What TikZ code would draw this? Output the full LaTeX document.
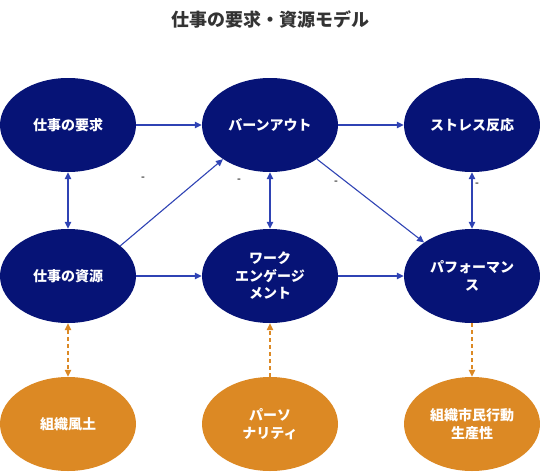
\documentclass[tikz,border=0pt]{standalone}
\usepackage{fontspec}
\setmainfont{Noto Sans CJK JP}
\usetikzlibrary{shapes.geometric,arrows.meta}
\definecolor{navy}{RGB}{6,19,118}
\definecolor{arrowblue}{RGB}{47,67,180}
\definecolor{orng}{RGB}{220,137,36}
\definecolor{ttl}{RGB}{51,51,51}
\definecolor{hyph}{RGB}{80,80,80}
\tikzset{
  otip/.tip={Triangle[length=7pt,width=6.5pt]},
  bnode/.style={ellipse, fill=navy, text=white, minimum width=136pt, minimum height=94pt, inner sep=0pt, align=center, font=\fontsize{14}{17.5}\selectfont\bfseries},
  onode/.style={bnode, fill=orng},
  barrow/.style={draw=arrowblue, line width=1.1pt, -{otip}},
  bdarrow/.style={draw=arrowblue, line width=1.1pt, {otip}-{otip}},
  oarrow/.style={draw=orng, line width=1.3pt, dash pattern=on 4pt off 3pt},
  hy/.style={text=hyph, font=\fontsize{10}{10}\selectfont\bfseries, inner sep=0pt}
}
\begin{document}
\begin{tikzpicture}[x=1pt,y=-1pt]
\useasboundingbox (0,0) rectangle (540,471);
\node[text=ttl, font=\fontsize{18}{18}\selectfont\bfseries] (title) at (270,19) {仕事の要求・資源モデル};
\node[bnode] (req) at (68,125) {仕事の要求};
\node[bnode] (burn) at (270,125) {バーンアウト};
\node[bnode] (str) at (472,125) {ストレス反応};
\node[bnode] (res) at (68,276) {仕事の資源};
\node[bnode] (eng) at (270,276) {ワーク\\エンゲージ\\メント};
\node[bnode] (perf) at (472,276) {パフォーマン\\ス};
\node[onode] (org) at (68,424) {組織風土};
\node[onode] (pers) at (270,424) {パーソ\\ナリティ};
\node[onode] (ocb) at (472,424) {組織市民行動\\生産性};
\draw[barrow] (req) -- (burn);
\draw[barrow] (burn) -- (str);
\draw[barrow] (res) -- (eng);
\draw[barrow] (eng) -- (perf);
\draw[bdarrow] (req) -- (res);
\draw[bdarrow] (burn) -- (eng);
\draw[bdarrow] (str) -- (perf);
\draw[barrow] (res.30) -- (burn.216);
\draw[barrow] (burn.324) -- (perf.145);
\draw[oarrow, {otip}-{otip}] (res) -- (org);
\draw[oarrow, -{otip}] (pers) -- (eng);
\draw[oarrow, -{otip}] (perf) -- (ocb);
\node[hy] (h1) at (143,179) {-};
\node[hy] (h2) at (239,181) {-};
\node[hy] (h3) at (336,183) {-};
\node[hy] (h4) at (477,185) {-};
\end{tikzpicture}
\end{document}
